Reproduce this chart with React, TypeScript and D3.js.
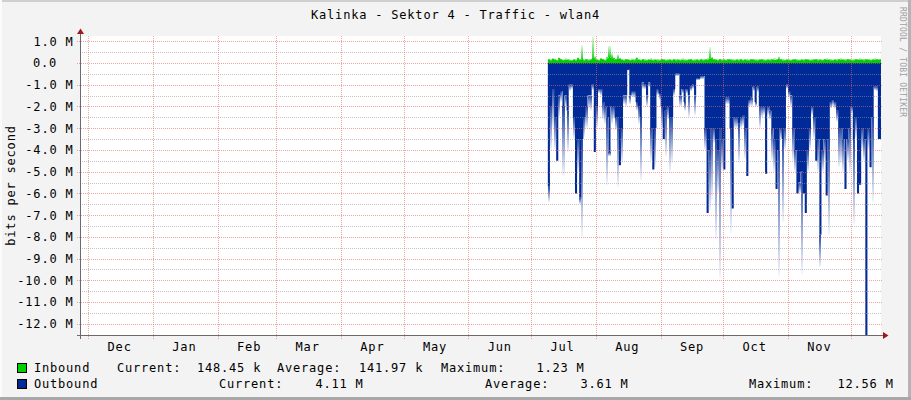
import React from 'react';
import * as d3 from 'd3';

const W = 911;
const H = 400;
const TITLE = 'Kalinka - Sektor 4 - Traffic - wlan4';
const Y_LABEL = 'bits per second';
const WATERMARK = 'RRDTOOL / TOBI OETIKER';

const X_START = new Date(2012, 10, 27, 12);
const X_END = new Date(2013, 11, 15, 12);
const FIRST_DAY = new Date(2013, 6, 9);
const Y_MIN = -12.56e6;
const Y_MAX = 1.24e6;

const Y_MAJOR = [1, 0, -1, -2, -3, -4, -5, -6, -7, -8, -9, -10, -11, -12];
const Y_MAJOR_LABELS = ['1.0 M', '0.0', '-1.0 M', '-2.0 M', '-3.0 M', '-4.0 M', '-5.0 M', '-6.0 M', '-7.0 M', '-8.0 M', '-9.0 M', '-10.0 M', '-11.0 M', '-12.0 M'];
const Y_MINOR = [0.5, -0.5, -1.5, -2.5, -3.5, -4.5, -5.5, -6.5, -7.5, -8.5, -9.5, -10.5, -11.5, -12.5];
const MONTH_LABELS = ['Dec', 'Jan', 'Feb', 'Mar', 'Apr', 'May', 'Jun', 'Jul', 'Aug', 'Sep', 'Oct', 'Nov', 'Dec'];

// daily values, in M bits/s, starting FIRST_DAY
const inboundAvg = [
  0.15, 0.12, 0.18, 0.14, 0.12, 0.20, 0.15, 0.12, 0.16, 0.14,
  0.12, 0.10, 0.14, 0.13, 0.20, 0.14, 0.18, 0.12, 0.15, 0.12,
  0.14, 0.20, 0.22, 0.14, 0.12, 0.18, 0.15, 0.12, 0.22, 0.28,
  0.24, 0.20, 0.15, 0.22, 0.18, 0.14, 0.12, 0.15, 0.14, 0.12,
  0.16, 0.13, 0.20, 0.14, 0.12, 0.15, 0.13, 0.12, 0.14, 0.16,
  0.12, 0.14, 0.13, 0.12, 0.15, 0.14, 0.12, 0.13, 0.14, 0.12,
  0.15, 0.13, 0.14, 0.12, 0.16, 0.13, 0.12, 0.14, 0.15, 0.12,
  0.13, 0.14, 0.12, 0.15, 0.13, 0.14, 0.16, 0.22, 0.20, 0.15,
  0.14, 0.12, 0.15, 0.13, 0.14, 0.12, 0.15, 0.14, 0.13, 0.12,
  0.14, 0.13, 0.15, 0.12, 0.14, 0.13, 0.12, 0.15, 0.14, 0.13,
  0.12, 0.14, 0.15, 0.13, 0.12, 0.14, 0.13, 0.15, 0.16, 0.14,
  0.18, 0.15, 0.13, 0.12, 0.14, 0.13, 0.12, 0.14, 0.15, 0.13,
  0.12, 0.14, 0.13, 0.15, 0.14, 0.12, 0.13, 0.14, 0.15, 0.13,
  0.14, 0.12, 0.15, 0.16, 0.14, 0.13, 0.12, 0.14, 0.13, 0.15,
  0.16, 0.14, 0.13, 0.15, 0.14, 0.12, 0.13, 0.15, 0.14, 0.16,
  0.14, 0.13, 0.15, 0.14, 0.12, 0.14, 0.16, 0.15, 0.14, 0.148,
];
const inboundMax = [
  0.20, 0.18, 0.22, 0.20, 0.16, 0.26, 0.20, 0.17, 0.22, 0.19,
  0.17, 0.15, 0.20, 0.18, 0.26, 0.19, 0.83, 0.17, 0.20, 0.18,
  0.19, 1.23, 0.32, 0.19, 0.17, 0.24, 0.20, 0.17, 0.30, 0.80,
  0.45, 0.26, 0.20, 0.40, 0.24, 0.19, 0.17, 0.20, 0.19, 0.17,
  0.21, 0.18, 0.26, 0.19, 0.17, 0.20, 0.18, 0.17, 0.19, 0.22,
  0.17, 0.19, 0.18, 0.17, 0.20, 0.19, 0.17, 0.18, 0.19, 0.17,
  0.20, 0.18, 0.19, 0.17, 0.22, 0.18, 0.17, 0.19, 0.20, 0.17,
  0.18, 0.19, 0.17, 0.20, 0.18, 0.19, 0.22, 0.72, 0.28, 0.20,
  0.19, 0.17, 0.20, 0.18, 0.19, 0.17, 0.20, 0.19, 0.18, 0.17,
  0.19, 0.18, 0.20, 0.17, 0.19, 0.18, 0.17, 0.20, 0.19, 0.18,
  0.17, 0.19, 0.20, 0.18, 0.17, 0.19, 0.18, 0.20, 0.22, 0.19,
  0.30, 0.20, 0.18, 0.17, 0.19, 0.18, 0.17, 0.19, 0.20, 0.18,
  0.17, 0.19, 0.18, 0.20, 0.19, 0.17, 0.18, 0.19, 0.20, 0.18,
  0.19, 0.17, 0.20, 0.22, 0.19, 0.18, 0.17, 0.19, 0.18, 0.20,
  0.22, 0.19, 0.18, 0.20, 0.19, 0.17, 0.18, 0.20, 0.19, 0.22,
  0.19, 0.18, 0.20, 0.19, 0.17, 0.19, 0.22, 0.20, 0.19, 0.19,
];
const outboundAvg = [
  5.7, 2.0, 1.2, 2.5, 4.5, 1.5, 1.3, 2.0, 1.5, 2.2,
  1.0, 1.0, 2.5, 6.0, 3.5, 6.2, 3.5, 2.5, 2.0, 1.5,
  1.5, 1.0, 4.1, 2.0, 1.2, 1.2, 1.8, 2.0, 2.5, 4.1,
  2.0, 2.0, 2.5, 2.5, 4.7, 3.0, 1.5, 1.5, 0.3, 1.5,
  1.3, 1.3, 1.8, 2.0, 2.5, 0.9, 1.0, 1.5, 0.9, 3.0,
  4.9, 3.0, 1.2, 1.4, 2.0, 3.5, 2.2, 2.0, 2.5, 2.5,
  1.2, 0.5, 0.5, 1.5, 1.2, 1.8, 1.2, 1.5, 1.1, 1.0,
  1.5, 0.7, 0.7, 0.6, 0.6, 3.0, 6.9, 4.0, 3.0, 3.0,
  3.5, 4.0, 3.0, 3.5, 4.9, 1.6, 1.6, 3.0, 6.7, 2.5,
  2.5, 2.8, 2.5, 2.4, 3.0, 5.2, 1.7, 1.6, 1.1, 1.8,
  1.1, 2.0, 2.0, 2.0, 5.1, 2.0, 2.2, 3.0, 3.5, 5.8,
  4.0, 3.0, 3.5, 3.0, 1.0, 1.3, 1.5, 3.0, 4.0, 6.0,
  5.5, 5.0, 6.0, 6.9, 4.0, 3.0, 2.0, 2.5, 4.5, 3.5,
  7.9, 4.0, 3.5, 6.1, 3.5, 1.8, 1.7, 1.8, 2.2, 3.0,
  3.0, 3.5, 5.8, 3.5, 3.0, 2.0, 3.5, 2.5, 6.0, 5.6,
  3.0, 3.5, 12.56, 3.0, 4.8, 2.5, 1.1, 1.1, 3.5, 3.5,
];
const outboundMax = [
  6.4, 4.0, 3.0, 4.0, 4.5, 2.5, 1.8, 5.2, 2.0, 4.1,
  1.3, 1.2, 3.5, 6.0, 5.0, 6.5, 8.0, 3.4, 3.0, 2.1,
  2.2, 1.25, 4.1, 3.0, 1.4, 1.5, 2.6, 2.8, 5.6, 4.3,
  2.8, 2.6, 3.1, 5.7, 4.7, 4.6, 1.9, 2.0, 0.35, 1.9,
  1.55, 1.6, 2.2, 2.8, 5.4, 1.2, 1.2, 2.0, 1.1, 4.5,
  4.9, 4.8, 1.5, 1.7, 3.0, 3.5, 4.3, 2.6, 5.0, 4.6,
  1.5, 0.6, 0.6, 2.0, 1.4, 2.2, 1.4, 2.5, 1.3, 1.2,
  2.4, 0.8, 0.8, 0.75, 0.75, 4.0, 6.9, 6.8, 6.3, 3.7,
  8.1, 6.0, 9.9, 5.0, 4.9, 1.9, 1.9, 7.8, 6.7, 3.0,
  3.0, 4.6, 3.0, 2.9, 4.4, 5.2, 2.0, 2.0, 1.3, 2.0,
  1.35, 3.0, 2.5, 2.4, 5.1, 2.4, 2.6, 4.5, 5.0, 5.8,
  9.8, 3.5, 7.3, 4.0, 1.2, 1.6, 2.0, 4.5, 5.0, 6.0,
  6.0, 9.7, 6.0, 6.9, 5.0, 4.0, 2.4, 3.5, 4.5, 5.0,
  9.4, 5.0, 4.5, 6.1, 7.9, 2.1, 2.0, 2.1, 2.7, 4.8,
  4.6, 5.0, 5.8, 4.5, 5.0, 2.3, 7.4, 3.5, 6.0, 5.6,
  4.0, 4.5, 12.56, 4.0, 4.8, 6.4, 1.25, 1.3, 3.5, 3.5,
];

const LEGEND_NAMES = ['Inbound', 'Outbound'];
const LEGEND_COLORS = ['#00cf00', '#002a97'];
const LEGEND_CURRENT = ['148.45 k', '4.11 M'];
const LEGEND_AVERAGE = ['141.97 k', '3.61 M'];
const LEGEND_MAXIMUM = ['1.23 M', '12.56 M'];

const FONT = '"DejaVu Sans Mono", monospace';
const OUT_COLOR = '#002a97';
const IN_COLOR = '#00cf00';

export default function App() {
  const left = 81, right = 881, top = 36, bottom = 336;
  const x = d3.scaleTime().domain([X_START, X_END]).range([left, right]);
  const y = d3.scaleLinear().domain([Y_MIN, Y_MAX]).range([bottom, top]);

  const days = outboundAvg.map((_, i) => d3.timeDay.offset(FIRST_DAY, i));
  const endDay = d3.timeDay.offset(FIRST_DAY, outboundAvg.length);
  const stepPts = (arr: number[], sign: number) =>
    [...arr.map((v, i) => ({ t: days[i], v: sign * v * 1e6 })), { t: endDay, v: sign * arr[arr.length - 1] * 1e6 }];

  const area = d3.area<{ t: Date; v: number }>()
    .x(d => x(d.t))
    .y0(y(0))
    .y1(d => y(d.v))
    .curve(d3.curveStepAfter);

  const months = d3.timeMonth.range(X_START, X_END);
  const txt = { fontFamily: FONT, fontSize: 12, letterSpacing: '0.8px', fill: '#000' } as const;

  const legendRowY = [372, 388];
  const legendX = [
    { cur: 117, curV: 197, avg: 277, avgV: 359, max: 441, maxV: 536.5 },
    { cur: 219, curV: 315.5, avg: 485, avgV: 580.5, max: 749, maxV: 837.5 },
  ];

  return (
    <svg width={W} height={H} style={{ position: 'absolute', left: 0, top: 0 }} xmlns="http://www.w3.org/2000/svg">
      <defs>
        <clipPath id="plotClip">
          <rect x={left} y={top} width={right - left} height={bottom - top} />
        </clipPath>
        <linearGradient id="fadeOut" x1="0" y1="0" x2="0" y2="1">
          <stop offset="0" stopColor={OUT_COLOR} stopOpacity={0.85} />
          <stop offset="1" stopColor={OUT_COLOR} stopOpacity={0.04} />
        </linearGradient>
        <linearGradient id="fadeIn" x1="0" y1="1" x2="0" y2="0">
          <stop offset="0" stopColor={IN_COLOR} stopOpacity={0.85} />
          <stop offset="1" stopColor={IN_COLOR} stopOpacity={0.1} />
        </linearGradient>
      </defs>
      {/* background and frame */}
      <rect x={0} y={0} width={W} height={H} fill="#f3f3f3" />
      <rect x={0} y={0} width={W} height={2} fill="#cfcfcf" />
      <rect x={0} y={0} width={2} height={H} fill="#fbfbfb" />
      <rect x={W - 3} y={0} width={3} height={H} fill="#b4b4b4" />
      <rect x={0} y={H - 3} width={W} height={3} fill="#a8a8a8" />
      <rect x={left} y={top} width={right - left} height={bottom - top} fill="#ffffff" />

      {/* data */}
      <g clipPath="url(#plotClip)">
        <path d={area(stepPts(outboundAvg, -1)) || ''} fill={OUT_COLOR} />
        <path d={area(stepPts(inboundAvg, 1)) || ''} fill={IN_COLOR} />
        {outboundAvg.map((s, i) => {
          const m = outboundMax[i];
          if (m <= s) return null;
          const x0 = x(days[i]);
          const x1 = x(d3.timeDay.offset(days[i], 1));
          return (
            <rect key={'o' + i} x={x0} width={x1 - x0} y={y(-s * 1e6)} height={y(-m * 1e6) - y(-s * 1e6)}
              fill="url(#fadeOut)" shapeRendering="crispEdges" />
          );
        })}
        {inboundAvg.map((s, i) => {
          const m = inboundMax[i];
          if (m <= s) return null;
          const x0 = x(days[i]);
          const x1 = x(d3.timeDay.offset(days[i], 1));
          return (
            <rect key={'i' + i} x={x0} width={x1 - x0} y={y(m * 1e6)} height={y(s * 1e6) - y(m * 1e6)}
              fill="url(#fadeIn)" shapeRendering="crispEdges" />
          );
        })}
      </g>

      {/* grid */}
      <g shapeRendering="crispEdges">
        {Y_MINOR.map(v => (
          <line key={'mi' + v} x1={left - 1} x2={right + 1} y1={Math.round(y(v * 1e6)) + 0.5} y2={Math.round(y(v * 1e6)) + 0.5}
            stroke="rgba(150,150,150,0.55)" strokeDasharray="1,1" />
        ))}
        {Y_MAJOR.map(v => (
          <line key={'ma' + v} x1={left - 4} x2={right + 1} y1={Math.round(y(v * 1e6)) + 0.5} y2={Math.round(y(v * 1e6)) + 0.5}
            stroke="rgba(235,100,100,0.6)" strokeDasharray="1,1" />
        ))}
        {months.map((mDate, i) => (
          <line key={'v' + i} x1={Math.round(x(mDate)) + 0.5} x2={Math.round(x(mDate)) + 0.5} y1={top} y2={bottom + 3}
            stroke="rgba(235,100,100,0.6)" strokeDasharray="1,1" />
        ))}
      </g>

      {/* axes */}
      <g shapeRendering="crispEdges">
        <line x1={left - 0.5} x2={left - 0.5} y1={32} y2={bottom + 3} stroke="#6a6a6a" />
        <line x1={left - 4} x2={right + 2} y1={bottom - 0.5} y2={bottom - 0.5} stroke="#6a6a6a" />
      </g>
      <path d={`M${left - 4},${34} L${left + 3},${34} L${left - 0.5},${28.5} Z`} fill="#a01818" />
      <path d={`M${right + 2},${bottom - 4} L${right + 2},${bottom + 3} L${right + 7.5},${bottom - 0.5} Z`} fill="#a01818" />

      {/* y tick labels */}
      {Y_MAJOR.map((v, i) => (
        <text key={'yl' + v} x={v === 0 ? 57 : 73.5} y={y(v * 1e6) + 4.4} textAnchor="end" style={txt}>
          {Y_MAJOR_LABELS[i]}
        </text>
      ))}

      {/* month labels */}
      {months.map((mDate, i) => {
        const cx = x(d3.timeDay.offset(mDate, 15));
        if (cx + 12 > right) return null;
        return (
          <text key={'ml' + i} x={cx} y={350.5} textAnchor="middle" style={txt}>
            {MONTH_LABELS[i]}
          </text>
        );
      })}

      {/* title and axis label */}
      <text x={455.5} y={18.5} textAnchor="middle" style={txt}>{TITLE}</text>
      <text transform="translate(14.5,185.5) rotate(-90)" textAnchor="middle" style={txt}>{Y_LABEL}</text>
      <text transform="translate(900,7) rotate(90)" style={{ fontFamily: FONT, fontSize: 8, letterSpacing: '0.2px', fill: '#a0a0a0' }}>
        {WATERMARK}
      </text>

      {/* legend */}
      {LEGEND_NAMES.map((name, r) => {
        const by = legendRowY[r];
        const lx = legendX[r];
        return (
          <g key={'lg' + r}>
            <rect x={17.5} y={by - 8.5} width={9} height={9} fill={LEGEND_COLORS[r]} stroke="#000" strokeWidth={1} shapeRendering="crispEdges" />
            <text x={34} y={by} style={txt}>{name}</text>
            <text x={lx.cur} y={by} style={txt}>Current:</text>
            <text x={lx.curV} y={by} style={txt}>{LEGEND_CURRENT[r]}</text>
            <text x={lx.avg} y={by} style={txt}>Average:</text>
            <text x={lx.avgV} y={by} style={txt}>{LEGEND_AVERAGE[r]}</text>
            <text x={lx.max} y={by} style={txt}>Maximum:</text>
            <text x={lx.maxV} y={by} style={txt}>{LEGEND_MAXIMUM[r]}</text>
          </g>
        );
      })}
    </svg>
  );
}
